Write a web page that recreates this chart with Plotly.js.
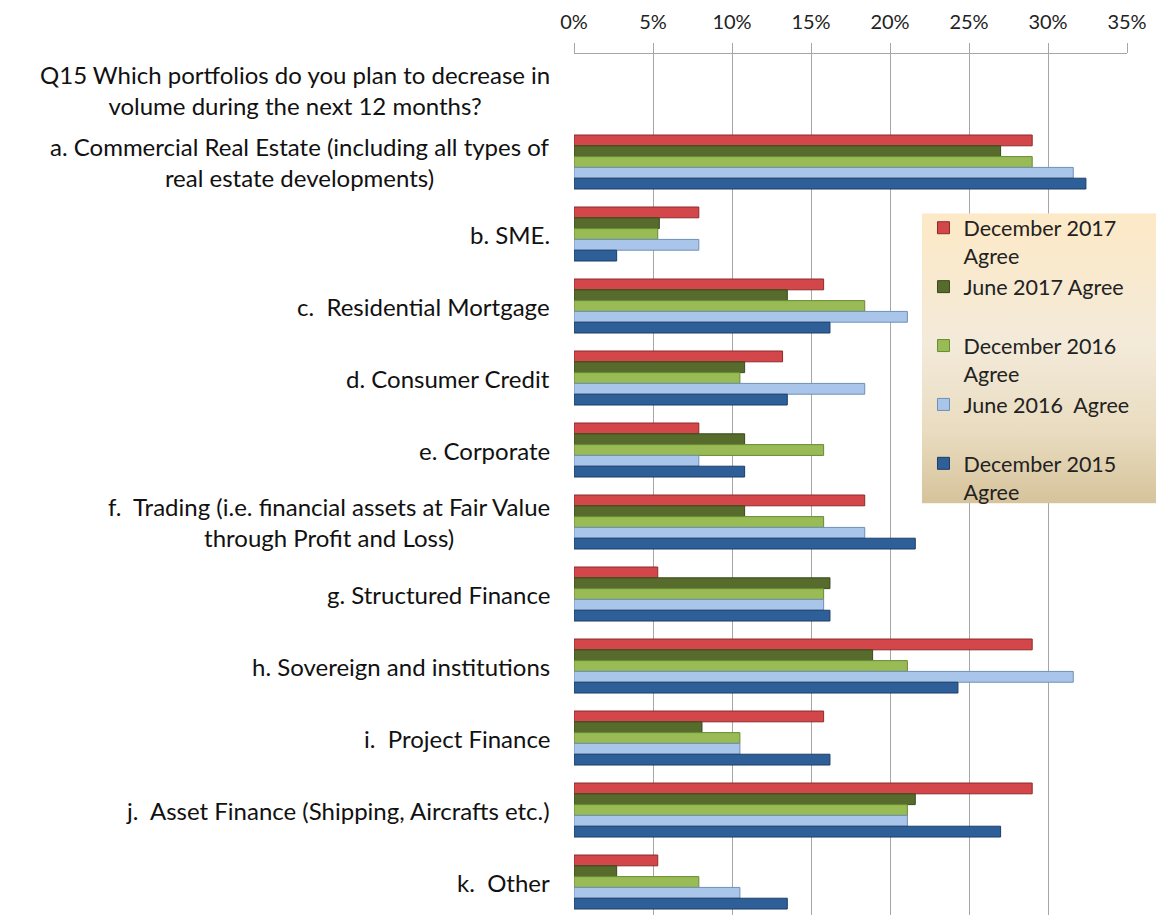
<!DOCTYPE html>
<html>
<head>
<meta charset="utf-8">
<script src="https://cdn.plot.ly/plotly-3.0.1.min.js"></script>
<style>
  html, body { margin: 0; padding: 0; background: #ffffff; overflow: hidden; }
  #chart { width: 1156px; height: 915px; }
</style>
</head>
<body>
<div id="chart"></div>
<script>
// ---- data ----
var categories = ["Q15", "a", "b", "c", "d", "e", "f", "g", "h", "i", "j", "k"];
var categoryLabels = [
  "Q15 Which portfolios do you plan to decrease in<br>volume during the next 12 months?",
  "a. Commercial Real Estate (including all types of<br>real estate developments)",
  "b. SME.",
  "c.\u00a0 Residential Mortgage",
  "d. Consumer Credit",
  "e. Corporate",
  "f.\u00a0 Trading (i.e. financial assets at Fair Value<br>through Profit and Loss)",
  "g. Structured Finance",
  "h. Sovereign and institutions",
  "i.\u00a0 Project Finance",
  "j.\u00a0 Asset Finance (Shipping, Aircrafts etc.)",
  "k.\u00a0 Other"
];
var seriesNames = [
  "December 2017<br>Agree",
  "June 2017 Agree<br> ",
  "December 2016<br>Agree",
  "June 2016\u00a0 Agree<br> ",
  "December 2015<br>Agree"
];
var dec2017 = [null, 29.0, 7.9, 15.8, 13.2, 7.9, 18.4, 5.3, 29.0, 15.8, 29.0, 5.3];
var jun2017 = [null, 27.0, 5.4, 13.5, 10.8, 10.8, 10.8, 16.2, 18.9, 8.1, 21.6, 2.7];
var dec2016 = [null, 29.0, 5.3, 18.4, 10.5, 15.8, 15.8, 15.8, 21.1, 10.5, 21.1, 7.9];
var jun2016 = [null, 31.6, 7.9, 21.1, 18.4, 7.9, 18.4, 15.8, 31.6, 10.5, 21.1, 10.5];
var dec2015 = [null, 32.4, 2.7, 16.2, 13.5, 10.8, 21.6, 16.2, 24.3, 16.2, 27.0, 13.5];
var tickValues = [0, 5, 10, 15, 20, 25, 30, 35];
var tickLabels = ["0%", "5%", "10%", "15%", "20%", "25%", "30%", "35%"];

// ---- styles ----
var fills = ["#d3474a", "#566b2c", "#98bb55", "#a9c5ea", "#2f5f98"];
var edges = ["#8e2a2a", "#3a4a1c", "#6a8a34", "#6f8fb8", "#1d3d66"];
var seriesValues = [dec2017, jun2017, dec2016, jun2016, dec2015];

var traces = seriesValues.map(function (vals, i) {
  return {
    type: "bar",
    orientation: "h",
    name: seriesNames[i],
    y: categories,
    x: vals,
    marker: { color: fills[i], line: { color: edges[i], width: 1 } },
    hoverinfo: "x+name"
  };
});

var annotations = categories.map(function (c, i) {
  return {
    xref: "paper", yref: "y",
    x: 0, y: c,
    xanchor: "right", yanchor: "middle",
    xshift: -22,
    text: categoryLabels[i],
    align: "center",
    showarrow: false,
    font: { family: "Lato, 'Open Sans', sans-serif", size: 24, color: "#111111" }
  };
});

var gradSvg = "<svg xmlns='http://www.w3.org/2000/svg' width='100' height='100' preserveAspectRatio='none' viewBox='0 0 100 100'>" +
  "<defs><linearGradient id='g' x1='0' y1='0' x2='0' y2='1'>" +
  "<stop offset='0' stop-color='#fde9c6'/><stop offset='0.45' stop-color='#f3ead9'/>" +
  "<stop offset='0.75' stop-color='#e9dcc0'/><stop offset='1' stop-color='#d6c39b'/>" +
  "</linearGradient></defs><rect width='100' height='100' fill='url(#g)'/></svg>";
var gradUri = "data:image/svg+xml;charset=utf-8," + encodeURIComponent(gradSvg);

var layout = {
  width: 1156,
  height: 915,
  margin: { l: 574, r: 29, t: 54, b: 0, pad: 0 },
  paper_bgcolor: "#ffffff",
  plot_bgcolor: "#ffffff",
  font: { family: "Lato, 'Open Sans', sans-serif", size: 20, color: "#111111" },
  barmode: "group",
  bargap: 0.25,
  bargroupgap: 0,
  showlegend: true,
  legend: {
    x: 0.632, y: 0.822, xanchor: "left", yanchor: "top",
    bgcolor: "rgba(0,0,0,0)",
    borderwidth: 0,
    valign: "top",
    traceorder: "normal",
    itemwidth: 30,
    font: { family: "Lato, 'Open Sans', sans-serif", size: 21.5, color: "#222222" }
  },
  xaxis: {
    side: "top",
    range: [0, 35],
    tickmode: "array",
    tickvals: tickValues,
    ticktext: tickLabels,
    showgrid: true,
    gridcolor: "#a6a6a6",
    gridwidth: 1,
    zeroline: false,
    showline: true,
    linecolor: "#a6a6a6",
    linewidth: 1,
    ticks: "outside",
    ticklen: 10,
    tickcolor: "#a6a6a6",
    ticklabelstandoff: 6,
    tickfont: { family: "Lato, 'Open Sans', sans-serif", size: 20, color: "#222222" },
    fixedrange: true
  },
  yaxis: {
    type: "category",
    categoryorder: "array",
    categoryarray: categories,
    range: [11.458, -0.5],
    showticklabels: false,
    showgrid: false,
    zeroline: false,
    showline: false,
    ticks: "",
    fixedrange: true
  },
  annotations: annotations,
  images: [{
    source: gradUri,
    xref: "paper", yref: "paper",
    x: 0.629, y: 0.815,
    sizex: 0.43, sizey: 0.337,
    xanchor: "left", yanchor: "top",
    sizing: "stretch",
    layer: "above"
  }]
};

Plotly.newPlot("chart", traces, layout, { displayModeBar: false, staticPlot: true });
</script>
</body>
</html>
